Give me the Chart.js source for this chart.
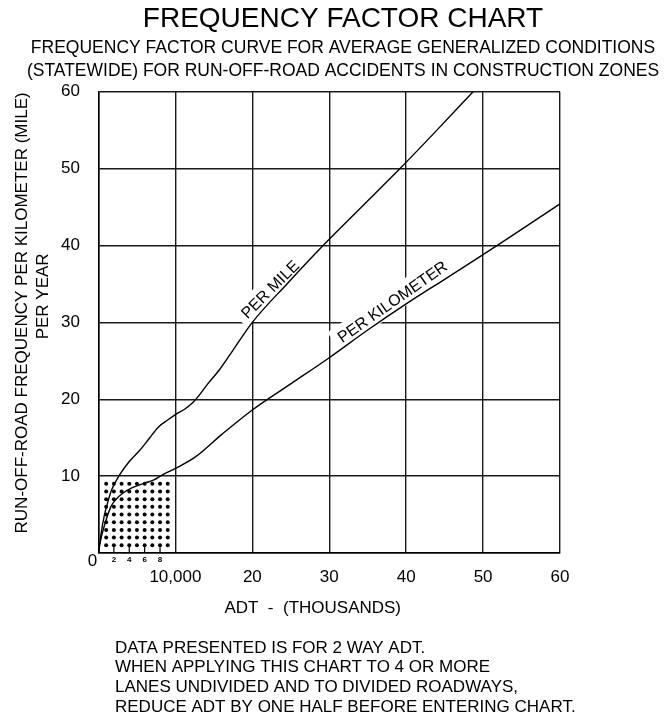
<!DOCTYPE html>
<html><head><meta charset="utf-8">
<script src="https://cdn.jsdelivr.net/npm/chart.js@4/dist/chart.umd.min.js"></script>
<style>html,body{margin:0;padding:0;background:#fff;}#wrap{width:665px;height:713px;}</style>
</head><body><div id="wrap"><canvas id="c" width="665" height="713"></canvas></div>
<script>
// ---- text ----
const titleText = 'FREQUENCY FACTOR CHART';
const subtitleLines = ['FREQUENCY FACTOR CURVE FOR AVERAGE GENERALIZED CONDITIONS', '(STATEWIDE) FOR RUN-OFF-ROAD ACCIDENTS IN CONSTRUCTION ZONES'];
const xTitle = 'ADT  -  (THOUSANDS)';
const yTitleLines = ['RUN-OFF-ROAD FREQUENCY PER KILOMETER (MILE)', 'PER YEAR'];
const noteLines = ['DATA PRESENTED IS FOR 2 WAY ADT.', 'WHEN APPLYING THIS CHART TO 4 OR MORE', 'LANES UNDIVIDED AND TO DIVIDED ROADWAYS,', 'REDUCE ADT BY ONE HALF BEFORE ENTERING CHART.'];
const curveNames = ['PER MILE', 'PER KILOMETER'];
const originLabel = '0';

// ---- ticks ----
const xTickValues = [0, 10, 20, 30, 40, 50, 60];
const xTickLabels = ['', '10,000', '20', '30', '40', '50', '60'];
const yTickValues = [0, 10, 20, 30, 40, 50, 60];
const yTickLabels = ['', '10', '20', '30', '40', '50', '60'];
const minorTickValues = [2, 4, 6, 8];
const minorTickLabels = ['2', '4', '6', '8'];

// ---- series (ADT thousands, frequency) ----
const mileX = [0, 0.35, 0.72, 1.2, 1.7, 2.7, 4.0, 5.4, 6.6, 7.8, 9.0, 10.0, 11.2, 12.2, 13.0, 14.2, 15.7, 17.5, 20.0, 24.5, 29.2, 34.2, 39.2, 44.0, 48.7];
const mileY = [0, 2.6, 4.7, 6.6, 8.2, 10.1, 11.9, 13.4, 14.9, 16.4, 17.3, 18.0, 18.7, 19.5, 20.4, 22.0, 23.8, 26.4, 30.0, 35.0, 40.0, 45.0, 50.0, 55.0, 60.0];
const kmX = [0, 0.2, 0.72, 1.6, 2.3, 3.2, 4.4, 6.0, 7.2, 8.2, 10.0, 12.6, 16.0, 20.0, 25.0, 30.0, 35.0, 40.0, 45.0, 50.0, 55.0, 60.0];
const kmY = [0, 1.3, 3.4, 6.0, 7.0, 7.8, 8.5, 9.1, 9.5, 10.1, 11.0, 12.5, 15.4, 18.6, 22.0, 25.4, 29.0, 32.4, 35.6, 38.8, 42.1, 45.4];

// ---- dotted zone ----
const dotCols = [1, 2, 3, 4, 5, 6, 7, 8, 9];
const dotRows = [1, 2, 3, 4, 5, 6, 7, 8, 9];

const pts = (xs, ys) => xs.map((x, i) => ({x: x, y: ys[i]}));
const dotPts = [];
dotRows.forEach(r => dotCols.forEach(c => dotPts.push({x: c, y: r})));

const FONT = "'Liberation Sans', Arial, sans-serif";

const extras = {
  id: 'extras',
  beforeDatasetsDraw(chart, args, opts) {
    const ctx = chart.ctx, xs = chart.scales.x, ys = chart.scales.y;
    ctx.save();
    // curve labels with white backing that breaks the grid
    opts.labels.forEach((lb, i) => {
      const px = xs.getPixelForValue(lb.x), py = ys.getPixelForValue(lb.y);
      ctx.save();
      ctx.translate(px, py);
      ctx.rotate(lb.angle * Math.PI / 180);
      ctx.font = '16px ' + FONT;
      const w = ctx.measureText(curveNames[i]).width;
      ctx.fillStyle = '#fff';
      ctx.fillRect(-w / 2 - 6, -12, w + 12, 23);
      ctx.fillStyle = '#000';
      ctx.textAlign = 'center';
      ctx.textBaseline = 'middle';
      ctx.fillText(curveNames[i], 0, 1);
      ctx.restore();
    });
    // minor ticks at the bottom of the dotted zone
    ctx.strokeStyle = '#000';
    ctx.lineWidth = 1.2;
    ctx.fillStyle = '#000';
    ctx.font = 'bold 8px ' + FONT;
    ctx.textAlign = 'center';
    ctx.textBaseline = 'middle';
    minorTickValues.forEach((v, i) => {
      const px = xs.getPixelForValue(v);
      ctx.beginPath();
      ctx.moveTo(px, ys.getPixelForValue(0));
      ctx.lineTo(px, ys.getPixelForValue(1));
      ctx.stroke();
      ctx.fillText(minorTickLabels[i], px, ys.getPixelForValue(0) + 7);
    });
    // origin label
    ctx.font = '17px ' + FONT;
    ctx.fillText(originLabel, xs.getPixelForValue(0) - 6, ys.getPixelForValue(0) + 8);
    ctx.restore();
  },
  afterDraw(chart, args, opts) {
    const ctx = chart.ctx;
    ctx.save();
    ctx.fillStyle = '#000';
    ctx.font = '17px ' + FONT;
    ctx.textAlign = 'left';
    ctx.textBaseline = 'middle';
    noteLines.forEach((t, i) => ctx.fillText(t, opts.noteX, opts.noteY + i * opts.noteGap));
    ctx.restore();
  }
};

new Chart(document.getElementById('c'), {
  type: 'scatter',
  data: {
    datasets: [
      {label: curveNames[0], data: pts(mileX, mileY), showLine: true, borderColor: '#000', borderWidth: 1.4, pointRadius: 0, cubicInterpolationMode: 'monotone', fill: false},
      {label: curveNames[1], data: pts(kmX, kmY), showLine: true, borderColor: '#000', borderWidth: 1.4, pointRadius: 0, cubicInterpolationMode: 'monotone', fill: false},
      {label: 'zone', data: dotPts, showLine: false, pointRadius: 2, pointBorderWidth: 0, backgroundColor: '#000', borderColor: '#000'}
    ]
  },
  options: {
    responsive: false,
    animation: false,
    devicePixelRatio: 1,
    layout: {padding: {left: 21, right: 0, top: 0, bottom: 0}},
    plugins: {
      legend: {display: false},
      tooltip: {enabled: false},
      title: {display: true, text: titleText, color: '#000', font: {family: FONT, size: 28, weight: 'normal', lineHeight: 1.2}, padding: {top: 2, bottom: 0}},
      subtitle: {display: true, text: subtitleLines, color: '#000', font: {family: FONT, size: 17.5, weight: 'normal', lineHeight: 1.3}, padding: {top: 1, bottom: 9.6}},
      extras: {
        labels: [{x: 22.3, y: 34.3, angle: -45}, {x: 38.2, y: 32.7, angle: -35}],
        noteX: 115, noteY: 648, noteGap: 19.7
      }
    },
    scales: {
      x: {
        type: 'linear', min: 0, max: 60,
        afterBuildTicks: s => { s.ticks = xTickValues.map(v => ({value: v})); },
        afterFit: s => { s.height = 160; },
        grid: {color: '#1a1a1a', lineWidth: 1.4, drawTicks: false},
        border: {display: true, color: '#000', width: 1.5},
        ticks: {color: '#000', padding: 14, maxRotation: 0, autoSkip: false, font: {family: FONT, size: 17}, callback: (v, i) => xTickLabels[i]},
        title: {display: true, text: xTitle + '       ', color: '#000', font: {family: FONT, size: 17, lineHeight: 1.2}, padding: {top: 0, bottom: 94}}
      },
      y: {
        type: 'linear', min: 0, max: 60, position: 'left',
        afterBuildTicks: s => { s.ticks = yTickValues.map(v => ({value: v})); },
        afterFit: s => { s.width = 77.5; },
        grid: {color: '#1a1a1a', lineWidth: 1.4, drawTicks: false},
        border: {display: true, color: '#000', width: 1.5},
        ticks: {color: '#000', padding: 18.5, font: {family: FONT, size: 17}, callback: (v, i) => yTickLabels[i]},
        title: {display: true, text: ['    ' + yTitleLines[0], '           ' + yTitleLines[1]], color: '#000', font: {family: FONT, size: 17, lineHeight: 1.2}, padding: {top: -8.7, bottom: 0}}
      },
      yR: {
        type: 'linear', min: 0, max: 60, position: 'right', display: true,
        afterFit: s => { s.width = 105; },
        grid: {display: false, drawTicks: false},
        border: {display: false},
        ticks: {display: false}
      }
    }
  },
  plugins: [extras]
});
</script></body></html>
